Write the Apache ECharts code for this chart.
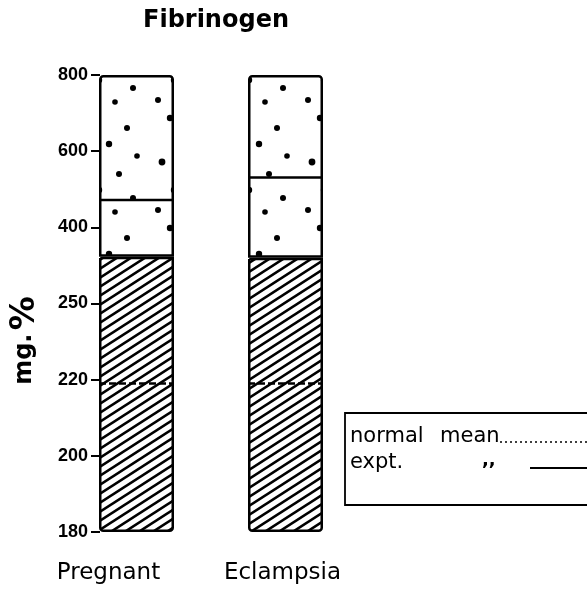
<!DOCTYPE html>
<html>
<head>
<meta charset="utf-8">
<script src="https://cdn.jsdelivr.net/npm/echarts@6/dist/echarts.min.js"></script>
<style>
  html, body { margin: 0; padding: 0; background: #fff; }
  #main { width: 587px; height: 598px; }
</style>
</head>
<body>
<div id="main"></div>
<script>
// data (mg %)
const categories = ['Pregnant', 'Eclampsia'];
const tickValues = [180, 200, 220, 250, 400, 600, 800];
const hatchTop = [342, 340];
const barTop = [800, 800];
const normalMean = [219, 219];
const exptMean = [472, 531];

// the axis is not linear: each printed tick gets the same spacing
function toPos(v) {
  for (let i = 0; i < tickValues.length - 1; i++) {
    if (v <= tickValues[i + 1]) {
      return i + (v - tickValues[i]) / (tickValues[i + 1] - tickValues[i]);
    }
  }
  return tickValues.length - 1;
}

// diagonal hatching
function hatchPattern() {
  const w = 14, h = 9;
  const c = document.createElement('canvas');
  c.width = w; c.height = h;
  const ctx = c.getContext('2d');
  ctx.fillStyle = '#fff';
  ctx.fillRect(0, 0, w, h);
  ctx.strokeStyle = '#000';
  ctx.lineWidth = 2.6;
  ctx.beginPath();
  ctx.moveTo(0, h); ctx.lineTo(w, 0);
  ctx.moveTo(-w, h); ctx.lineTo(w, -h);
  ctx.moveTo(0, 2 * h); ctx.lineTo(2 * w, 0);
  ctx.stroke();
  return c;
}

// sparse stipple
function dotPattern() {
  const c = document.createElement('canvas');
  c.width = 75; c.height = 110;
  const ctx = c.getContext('2d');
  ctx.fillStyle = '#fff';
  ctx.fillRect(0, 0, 75, 110);
  ctx.fillStyle = '#000';
  const dots = [[20, 8, 3.2], [52, 18, 3], [34, 34, 3.2], [62, 46, 2.8], [12, 52, 3.4],
                [44, 64, 3], [24, 80, 3.2], [58, 88, 3], [8, 100, 3], [40, 102, 2.8]];
  dots.forEach(function (d) {
    ctx.beginPath();
    ctx.arc(d[0], d[1], d[2], 0, Math.PI * 2);
    ctx.fill();
  });
  return c;
}

const chart = echarts.init(document.getElementById('main'));
const barW = 75;

function meanLine(data, dash) {
  return {
    type: 'custom',
    silent: true,
    z: 5,
    data: data.map(function (v, i) { return [i, toPos(v)]; }),
    renderItem: function (params, api) {
      const p = api.coord([api.value(0), api.value(1)]);
      return {
        type: 'line',
        shape: { x1: p[0] - barW / 2, y1: p[1], x2: p[0] + barW / 2, y2: p[1] },
        style: { stroke: '#000', lineWidth: 2.5, lineDash: dash }
      };
    }
  };
}

const option = {
  backgroundColor: '#fff',
  animation: false,
  title: {
    text: 'Fibrinogen',
    left: 211,
    top: 4,
    textAlign: 'center',
    textStyle: { fontFamily: 'DejaVu Sans', fontWeight: 'bold', fontSize: 24, color: '#000' }
  },
  grid: { left: 60, width: 300, top: 75, bottom: 66 },
  xAxis: {
    type: 'category',
    data: categories,
    axisLine: { show: false },
    axisTick: { show: false },
    axisLabel: {
      interval: 0,
      hideOverlap: false,
      margin: 30,
      color: '#000',
      formatter: function (v, i) { return i === 0 ? '{p|' + v + '}' : '{e|' + v + '}'; },
      rich: {
        p: { fontFamily: 'DejaVu Sans', fontSize: 23, color: '#000', padding: [0, 56, 0, 0] },
        e: { fontFamily: 'DejaVu Sans', fontSize: 23, color: '#000', padding: [0, 6, 0, 0] }
      }
    }
  },
  yAxis: {
    type: 'value',
    min: 0,
    max: 6,
    interval: 1,
    offset: -38,
    splitLine: { show: false },
    axisLine: { show: false },
    axisTick: { show: true, length: 9, lineStyle: { color: '#000', width: 2 } },
    axisLabel: {
      margin: 12,
      color: '#000',
      fontFamily: 'Liberation Sans',
      fontWeight: 'bold',
      fontSize: 18,
      formatter: function (v) { return String(tickValues[v]); }
    },
    name: '{a|mg.} {b|%}',
    nameLocation: 'middle',
    nameRotate: 90,
    nameGap: 58,
    nameTextStyle: {
      padding: [0, 74, 0, 0],
      rich: {
        a: { fontFamily: 'DejaVu Sans', fontWeight: 'bold', fontSize: 24, color: '#000' },
        b: { fontFamily: 'DejaVu Sans', fontWeight: 'bold', fontSize: 34, color: '#000' }
      }
    }
  },
  series: [
    {
      name: 'hatched',
      type: 'bar',
      stack: 'col',
      barWidth: barW,
      silent: true,
      data: hatchTop.map(toPos),
      itemStyle: {
        color: { image: hatchPattern(), repeat: 'repeat' },
        borderColor: '#000',
        borderWidth: 2.5,
        borderRadius: [0, 0, 3, 3]
      }
    },
    {
      name: 'dotted',
      type: 'bar',
      stack: 'col',
      barWidth: barW,
      silent: true,
      data: barTop.map(function (v, i) { return toPos(v) - toPos(hatchTop[i]); }),
      itemStyle: {
        color: { image: dotPattern(), repeat: 'repeat' },
        borderColor: '#000',
        borderWidth: 2.5,
        borderRadius: [3, 3, 0, 0]
      }
    },
    meanLine(normalMean, [7, 3]),
    meanLine(exptMean, null)
  ],
  graphic: [
    {
      type: 'rect',
      shape: { x: 345, y: 413, width: 260, height: 92 },
      style: { fill: 'none', stroke: '#000', lineWidth: 1.8 }
    },
    {
      type: 'text', left: 350, top: 426,
      style: { text: 'normal', font: '21px "DejaVu Sans"', fill: '#000' }
    },
    {
      type: 'text', left: 440, top: 426,
      style: { text: 'mean', font: '21px "DejaVu Sans"', fill: '#000' }
    },
    {
      type: 'line',
      shape: { x1: 500, y1: 442, x2: 587, y2: 442 },
      style: { stroke: '#000', lineWidth: 1.5, lineDash: [2, 3] }
    },
    {
      type: 'text', left: 350, top: 452,
      style: { text: 'expt.', font: '21px "DejaVu Sans"', fill: '#000' }
    },
    {
      type: 'text', left: 482, top: 451,
      style: { text: ',,', font: 'bold 18px "DejaVu Sans"', fill: '#000' }
    },
    {
      type: 'line',
      shape: { x1: 530, y1: 468, x2: 587, y2: 468 },
      style: { stroke: '#000', lineWidth: 2 }
    }
  ]
};

chart.setOption(option);
</script>
</body>
</html>
